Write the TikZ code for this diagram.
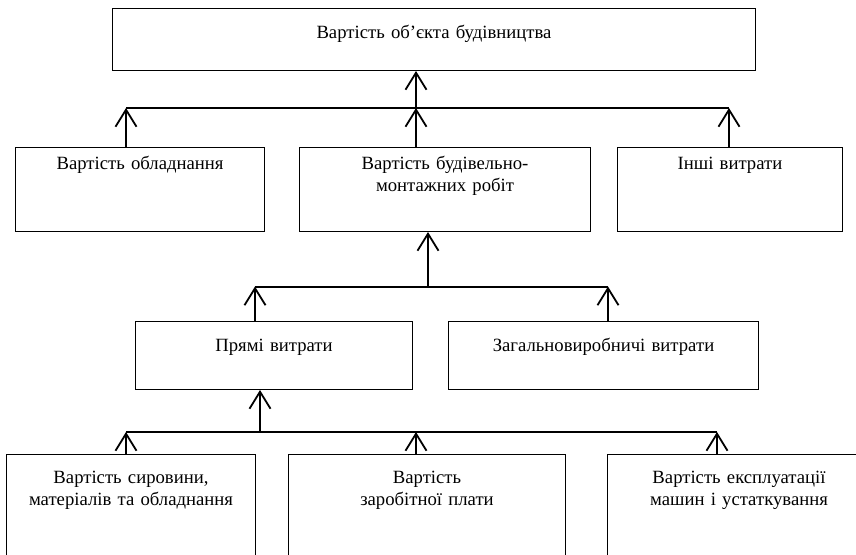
\documentclass[tikz,border=0pt]{standalone}
\usepackage{fontspec}
\setmainfont{Liberation Serif}
\usetikzlibrary{arrows.meta}

\begin{document}
\begin{tikzpicture}[x=1pt, y=-1pt,
    block/.style ={draw, line width=1pt, inner sep=0pt, anchor=north west, align=center,
                   font=\fontsize{18.7}{21.5}\selectfont},
    link/.style ={line width=1.8pt, -{Straight Barb[length=17pt, width=21pt, line width=1.8pt]}},
    bar/.style ={line width=2pt}]
   \useasboundingbox (0,0) rectangle (856,554);
   \clip (0,0) rectangle (856,554);

   \node[block, text width=643pt, text height=30pt, text depth=32pt] (obj)  at (112,8)  {Вартість об’єкта будівництва};

   \node[block, text width=249pt, text height=22pt, text depth=62pt] (obl)  at (15,147)  {Вартість обладнання};
   \node[block, text width=291pt, text height=22pt, text depth=62pt] (bmr)  at (299,147)  {Вартість будівельно-\\монтажних робіт};
   \node[block, text width=225pt, text height=22pt, text depth=62pt] (inshi)  at (617,147)  {Інші витрати};

   \node[block, text width=277pt, text height=30pt, text depth=38pt] (pryami)  at (135,321)  {Прямі витрати};
   \node[block, text width=310pt, text height=30pt, text depth=38pt] (zagal)  at (448,321)  {Загальновиробничі витрати};

   \node[block, text width=249pt, text height=29pt, text depth=90pt] (syr)  at (6,454)  {Вартість сировини,\\матеріалів та обладнання};
   \node[block, text width=277pt, text height=29pt, text depth=90pt] (zarp)  at (288,454)  {Вартість\\заробітної плати};
   \node[block, text width=263pt, text height=29pt, text depth=90pt] (ekspl)  at (607,454)  {Вартість експлуатації\\машин і устаткування};

   \coordinate (b1l) at (126,108);
   \coordinate (b1m) at (416,108);
   \coordinate (b1r) at (729,108);
   \coordinate (b2l) at (255,286.5);
   \coordinate (b2m) at (428,286.5);
   \coordinate (b2r) at (608,286.5);
   \coordinate (b3l) at (126,432);
   \coordinate (b3m) at (260,432);
   \coordinate (b3c) at (416,432);
   \coordinate (b3r) at (717,432);

   \draw[bar] (b1l) -- (b1r);
   \draw[bar] (b2l) -- (b2r);
   \draw[bar] (b3l) -- (b3r);

   \draw[link] (b1m) to (b1m |- obj.south);
   \draw[link] (b1l |- obl.north) to (b1l);
   \draw[link] (b1m |- bmr.north) to (b1m);
   \draw[link] (b1r |- inshi.north) to (b1r);

   \draw[link] (b2m) to (b2m |- bmr.south);
   \draw[link] (b2l |- pryami.north) to (b2l);
   \draw[link] (b2r |- zagal.north) to (b2r);

   \draw[link] (b3m) to (b3m |- pryami.south);
   \draw[link] (b3l |- syr.north) to (b3l);
   \draw[link] (b3c |- zarp.north) to (b3c);
   \draw[link] (b3r |- ekspl.north) to (b3r);

 \end{tikzpicture}
\end{document}
